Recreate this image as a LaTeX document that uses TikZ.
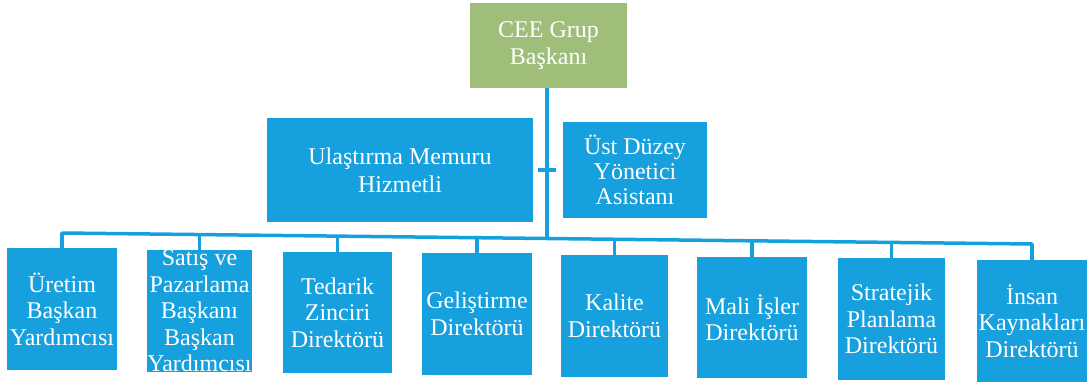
\documentclass[tikz,border=0pt]{standalone}
\usepackage{fontspec}
\setmainfont{Liberation Serif}
\newfontfamily\orgfont{Liberation Serif}
\definecolor{boxblue}{RGB}{22,160,221}
\definecolor{boxgreen}{RGB}{158,190,122}
\tikzset{
  orgbox/.style={fill=boxblue, text=white, inner sep=0pt, align=center,
    font=\orgfont\fontsize{24}{26.5}\selectfont},
  topbox/.style={orgbox, fill=boxgreen, font=\orgfont\fontsize{24}{27}\selectfont},
  conn/.style={draw=boxblue, line width=3.5pt},
  boxtext/.style={text=white, inner sep=0pt, align=center, font=\orgfont\fontsize{24}{26.5}\selectfont}
}
\begin{document}
\begin{tikzpicture}[x=1pt,y=-1pt]
\useasboundingbox (0,0) rectangle (1092,385);
% top
\node[topbox, minimum width=157pt, minimum height=85pt] (ceo) at (548.5,45.5) {CEE Grup\\Başkanı};
% assistants
\node[orgbox, minimum width=266pt, minimum height=104pt, font=\orgfont\fontsize{24}{28}\selectfont] (ulas) at (400,170) {Ulaştırma Memuru\\Hizmetli};
\node[orgbox, minimum width=144pt, minimum height=96pt, font=\orgfont\fontsize{24}{25}\selectfont] (ust) at (635,170) {Üst Düzey\\Yönetici\\Asistanı};
% bottom row
\node[orgbox, minimum width=110pt, minimum height=122pt] (b1) at (62,309) {Üretim\\Başkan\\Yardımcısı};
\node[orgbox, minimum width=105pt, minimum height=122pt,
  label={[boxtext]center:Satış ve\\Pazarlama\\Başkanı\\Başkan\\Yardımcısı}] (b2) at (199.5,311) {};
\node[orgbox, minimum width=109pt, minimum height=121pt] (b3) at (337.5,312.5) {Tedarik\\Zinciri\\Direktörü};
\node[orgbox, minimum width=110pt, minimum height=122pt] (b4) at (477,314) {Geliştirme\\Direktörü};
\node[orgbox, minimum width=107pt, minimum height=122pt] (b5) at (614.5,316) {Kalite\\Direktörü};
\node[orgbox, minimum width=110pt, minimum height=121pt] (b6) at (752,317.5) {Mali İşler\\Direktörü};
\node[orgbox, minimum width=107pt, minimum height=122pt] (b7) at (891.5,319) {Stratejik\\Planlama\\Direktörü};
\node[orgbox, minimum width=110pt, minimum height=122pt] (b8) at (1032,321) {İnsan\\Kaynakları\\Direktörü};
% connector coordinates
\coordinate (busL) at (62,233);
\coordinate (busR) at (1032,244);
\coordinate (busC) at (547,238.5);
\coordinate (j1) at (62,233);
\coordinate (j2) at (199.5,234.6);
\coordinate (j3) at (337.5,236.1);
\coordinate (j4) at (477,237.7);
\coordinate (j5) at (614.5,239.3);
\coordinate (j6) at (752,240.8);
\coordinate (j7) at (891.5,242.4);
\coordinate (j8) at (1032,244);
\coordinate (aL) at (538,170);
\coordinate (aR) at (556,170);
% connectors
\draw[conn] (ceo.south -| busC) -- (busC);
\draw[conn] (aL) -- (aR);
\draw[conn, line cap=round] (busL) -- (busR);
\draw[conn] (j1) -- (b1.north);
\draw[conn] (j2) -- (b2.north);
\draw[conn] (j3) -- (b3.north);
\draw[conn] (j4) -- (b4.north);
\draw[conn] (j5) -- (b5.north);
\draw[conn] (j6) -- (b6.north);
\draw[conn] (j7) -- (b7.north);
\draw[conn] (j8) -- (b8.north);
\end{tikzpicture}
\end{document}
